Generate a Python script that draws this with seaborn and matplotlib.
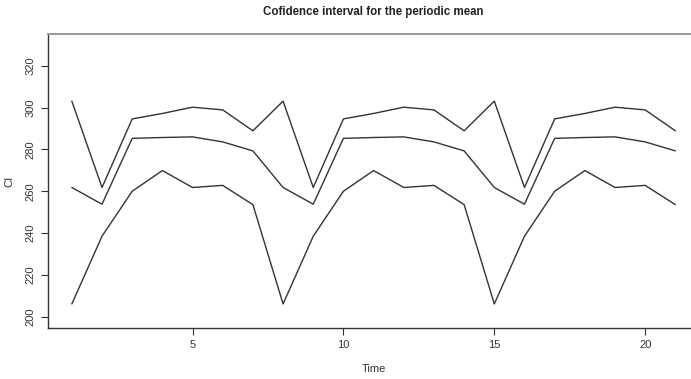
import matplotlib
matplotlib.use("Agg")
import matplotlib.pyplot as plt
import seaborn as sns
import pandas as pd

time = list(range(1, 22))
upper = [303.1, 261.8, 294.6, 297.2, 300.2, 298.9, 288.9,
         303.1, 261.8, 294.6, 297.2, 300.2, 298.9, 288.9,
         303.1, 261.8, 294.6, 297.2, 300.2, 298.9, 288.9]
middle = [261.8, 253.8, 285.3, 285.7, 286.0, 283.6, 279.3,
          261.8, 253.8, 285.3, 285.7, 286.0, 283.6, 279.3,
          261.8, 253.8, 285.3, 285.7, 286.0, 283.6, 279.3]
lower = [206.1, 238.5, 260.0, 269.9, 261.8, 262.8, 253.6,
         206.1, 238.5, 260.0, 269.9, 261.8, 262.8, 253.6,
         206.1, 238.5, 260.0, 269.9, 261.8, 262.8, 253.6]
y_ticks = [200, 220, 240, 260, 280, 300, 320]
x_ticks = [5, 10, 15, 20]

sns.set_style("white")
plt.rcParams['font.family'] = ['Liberation Sans', 'DejaVu Sans']

fig = plt.figure(figsize=(6.91, 3.79), dpi=100)
ax = fig.add_axes([47.7/691, 1 - 328/379, (699.5 - 47.7)/691, (328 - 34)/379])

df = pd.DataFrame({"Time": time * 3,
                   "CI": upper + middle + lower,
                   "series": ["upper"] * 21 + ["middle"] * 21 + ["lower"] * 21})
sns.lineplot(data=df, x="Time", y="CI", units="series", estimator=None,
             color="#333333", linewidth=1.0, ax=ax, legend=False)

ax.set_xlim(0.2, 21.8)
ax.set_ylim(194.6, 335.2)
ax.set_xticks(x_ticks)
ax.set_yticks(y_ticks)
ax.set_yticklabels([str(v) for v in y_ticks], rotation=90, va="center")
ax.tick_params(axis="both", direction="out", length=5, width=0.8,
               color="#333333", labelsize=8, labelcolor="#333333", pad=4,
               left=True, bottom=True)
for s in ax.spines.values():
    s.set_visible(True)
    s.set_color("#333333")
    s.set_linewidth(1.0)
ax.spines["top"].set_color("#999999")
ax.spines["top"].set_linewidth(1.4)

ax.set_xlabel("Time", fontsize=8, color="#333333", labelpad=10)
ax.set_ylabel("CI", fontsize=8, color="#333333", labelpad=8)
fig.text(373 / 691, 1 - 12.3 / 379,
         "Cofidence interval for the periodic mean",
         ha="center", va="center", fontsize=8.3, fontweight="bold", color="#222222")

fig.savefig("out.png", dpi=100)
